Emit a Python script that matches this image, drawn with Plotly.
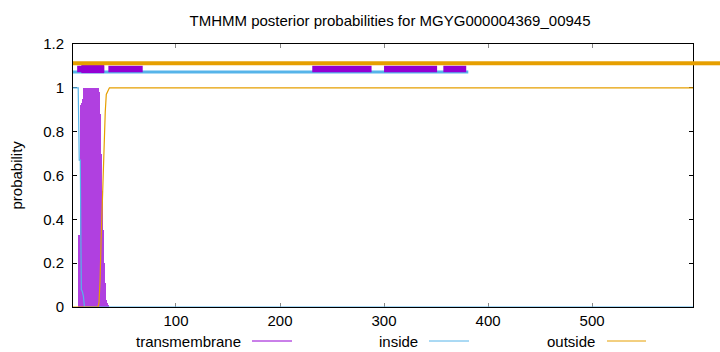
import plotly.graph_objects as go

# ---------------- data ----------------
title_text = "TMHMM posterior probabilities for MGYG000004369_00945"
seq_len = 597

# transmembrane posterior (impulses), residues with non-zero probability
tm_res = list(range(7, 36))
tm_prob = [0.33, 0.33, 0.92, 0.93, 0.95,
           1.0, 1.0, 1.0, 1.0, 1.0, 1.0, 1.0, 1.0, 1.0, 1.0, 1.0, 1.0, 1.0, 1.0,
           0.98, 0.88, 0.70, 0.53, 0.35, 0.20, 0.11, 0.03, 0.02, 0.01]

# inside posterior (line breakpoints)
inside_x = [1, 2, 3, 4, 5, 6, 7, 8, 9, 10, 11, 12, 597]
inside_y = [1.0, 1.0, 1.0, 1.0, 1.0, 1.0, 0.67, 0.67, 0.08, 0.07, 0.05, 0.0, 0.0]

# outside posterior (line breakpoints)
outside_x = [1, 25, 26, 27, 28, 29, 30, 31, 32, 33, 34, 35, 36, 597]
outside_y = [0.0, 0.0, 0.02, 0.12, 0.30, 0.47, 0.65, 0.80, 0.89, 0.97, 0.98, 0.99, 1.0, 1.0]

# topology bars along the top
top_outside = [(1, 597)]
top_inside = [(1, 381)]
top_tm = [(5, 31), (35, 68), (231, 288), (300, 351), (357, 379)]
top_tm_core = [(9, 31)]

x_tickvals = [100, 200, 300, 400, 500]
y_tickvals = [0, 0.2, 0.4, 0.6, 0.8, 1.0, 1.2]
y_ticktext = ["0", "0.2", "0.4", "0.6", "0.8", "1", "1.2"]

legend_names = ["transmembrane", "inside", "outside"]

# ---------------- style ----------------
C_TM = "#b040e0"
C_TM_TOP = "#9400d3"
C_IN = "#56b4e9"
C_OUT = "#e69f00"
FONT = "Liberation Sans, Arial, Helvetica, sans-serif"
FS = 15

W, H = 720, 352
L, R, T, B = 73, 27, 44, 45
PW, PH = W - L - R, H - T - B

def px_x(px):
    return (px - L) / PW

def px_y(py):
    return (H - B - py) / PH

fig = go.Figure()

fig.add_trace(go.Bar(x=tm_res, y=tm_prob, width=1.35, marker=dict(color=C_TM, line=dict(width=0)),
                     name="transmembrane", showlegend=False))
fig.add_trace(go.Scatter(x=inside_x, y=inside_y, mode="lines", line=dict(color=C_IN, width=1.2),
                         name="inside", showlegend=False))
fig.add_trace(go.Scatter(x=outside_x, y=outside_y, mode="lines", line=dict(color=C_OUT, width=1.2),
                         name="outside", showlegend=False))

for s, e in top_inside:
    fig.add_trace(go.Scatter(x=[s, e], y=[1.072, 1.072], mode="lines",
                             line=dict(color=C_IN, width=3), showlegend=False, hoverinfo="skip"))
for s, e in top_tm:
    fig.add_trace(go.Scatter(x=[s, e], y=[1.086, 1.086], mode="lines",
                             line=dict(color=C_TM_TOP, width=6.5), showlegend=False, hoverinfo="skip"))
for s, e in top_tm_core:
    fig.add_trace(go.Scatter(x=[s, e], y=[1.091, 1.091], mode="lines",
                             line=dict(color=C_TM_TOP, width=10.5), showlegend=False, hoverinfo="skip"))
for s, e in top_outside:
    fig.add_trace(go.Scatter(x=[s, e], y=[1.112, 1.112], mode="lines",
                             line=dict(color=C_OUT, width=4), showlegend=False, hoverinfo="skip"))

# overhang of the outside bar past the right border (as in the reference)
fig.add_shape(type="line", xref="paper", yref="paper", x0=1.0, x1=(W - L) / PW,
              y0=1.112 / 1.2, y1=1.112 / 1.2, line=dict(color=C_OUT, width=4), layer="above")

# legend (gnuplot style: text then sample)
leg = [(243, 252, 292, C_TM_TOP),
       (420, 429, 469, C_IN),
       (597, 607, 646, C_OUT)]
for (tx, l0, l1, col), nm in zip(leg, legend_names):
    fig.add_annotation(text=nm, xref="paper", yref="paper", x=px_x(tx), y=px_y(341),
                       xanchor="right", yanchor="middle", showarrow=False,
                       font=dict(family=FONT, size=FS, color="#000"))
    fig.add_shape(type="line", xref="paper", yref="paper", x0=px_x(l0), x1=px_x(l1),
                  y0=px_y(341), y1=px_y(341), line=dict(color=col, width=1))

fig.add_annotation(text="probability", xref="paper", yref="paper", x=px_x(16), y=0.5,
                   textangle=-90, showarrow=False, xanchor="center", yanchor="middle",
                   font=dict(family=FONT, size=FS, color="#000"))

fig.update_layout(
    width=W, height=H,
    margin=dict(l=L, r=R, t=T, b=B, pad=0),
    paper_bgcolor="white", plot_bgcolor="white",
    bargap=0,
    showlegend=False,
    title=dict(text=title_text, x=390 / W, xref="container", xanchor="center",
               y=1 - 21 / H, yref="container", yanchor="middle",
               font=dict(family=FONT, size=FS, color="#000")),
    font=dict(family=FONT, size=FS, color="#000"),
)
fig.update_xaxes(range=[1, seq_len], tickvals=x_tickvals, ticks="inside", ticklen=4,
                 tickcolor="#888", showline=True, linecolor="#000", linewidth=1, mirror="ticks",
                 showgrid=False, zeroline=False, layer="below traces",
                 tickfont=dict(family=FONT, size=FS), ticklabelstandoff=0)
fig.update_yaxes(range=[0, 1.2], tickvals=y_tickvals, ticktext=y_ticktext, ticks="inside", ticklen=4,
                 tickcolor="#000", showline=True, linecolor="#000", linewidth=1, mirror="ticks",
                 showgrid=False, zeroline=False, layer="below traces",
                 tickfont=dict(family=FONT, size=FS), ticklabelstandoff=5)

fig.write_html("out.html")
